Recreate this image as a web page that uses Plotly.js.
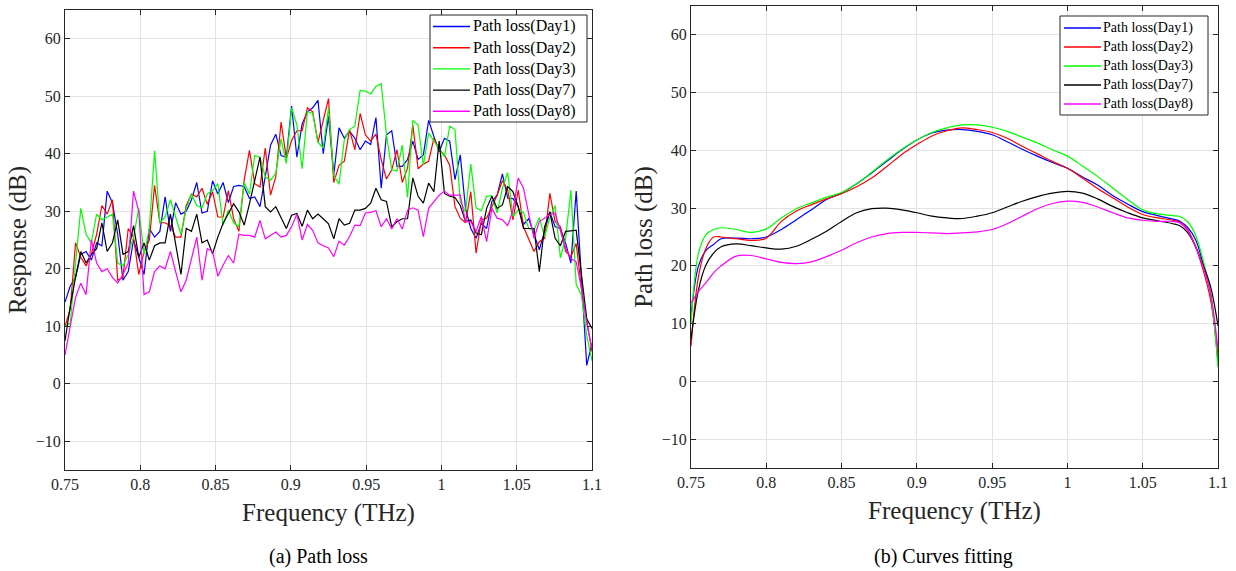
<!DOCTYPE html>
<html>
<head>
<meta charset="utf-8">
<script src="https://cdn.plot.ly/plotly-3.0.1.min.js"></script>
<style>html,body{margin:0;padding:0;background:#fff;}#chart{width:1236px;height:571px;}</style>
</head>
<body>
<div id="chart"></div>
<script>
// ---------- (a) measured path loss ----------
const freq = [0.75,0.7535,0.757,0.7605,0.764,0.7675,0.771,0.7745,0.778,0.7815,0.785,0.7885,0.792,0.7955,0.799,0.8025,0.806,0.8095,0.813,0.8165,0.82,0.8235,0.827,0.8305,0.834,0.8375,0.841,0.8445,0.848,0.8515,0.855,0.8585,0.862,0.8655,0.869,0.8725,0.876,0.8795,0.883,0.8865,0.89,0.8935,0.897,0.9005,0.904,0.9075,0.911,0.9145,0.918,0.9215,0.925,0.9285,0.932,0.9355,0.939,0.9425,0.946,0.9495,0.953,0.9565,0.96,0.9635,0.967,0.9705,0.974,0.9775,0.981,0.9845,0.988,0.9915,0.995,0.9985,1.002,1.0055,1.009,1.0125,1.016,1.0195,1.023,1.0265,1.03,1.0335,1.037,1.0405,1.044,1.0475,1.051,1.0545,1.058,1.0615,1.065,1.0685,1.072,1.0755,1.079,1.0825,1.086,1.0895,1.093,1.0965,1.1];

const day1 = [14.2,17,18.5,22.5,23,21.5,24.5,24,33.5,31.5,26,18,19.5,25,22,19,27,25.5,26.5,32.5,26.5,31.5,29.5,30,32,35,
29.7,30,35.3,33,35,31.5,34.3,34.5,34.3,32.2,32.5,30.8,36,41.5,43.4,39.7,39.4,48.3,39.4,45.2,47.3,48,49.3,40,46.5,
36.3,44.5,42.7,43.9,42.7,40.7,42.2,41.6,46.3,34,43.3,44,37.8,37.8,39,42.2,39,39.8,45.8,43,40.4,42.7,42.2,35.5,39.8,
30.5,27,25.3,27.9,27,31.7,32.8,36.5,32.3,32.2,30.8,27.7,28.7,25.9,23.3,26.5,29.9,27.3,27,24.4,21,33.5,19,3.2,7];

const day2 = [10,13,24.5,22,20.5,22.5,26,31,29.5,32,18,18.5,27,25.5,19,23,25,34.5,28,28,27.5,25.5,25.5,31,33,32.5,
34,31.2,33.4,29,29,33.6,28.7,26.5,35.4,40.6,34.8,34.2,41,32.8,36,45.5,39.2,42.3,44,44,48,47.3,42,45.8,49.6,
35,38,38.7,44.2,40.7,47,43.3,42.2,43.4,39,35.6,37.2,40.7,35,37.5,45,37.4,38.2,38.7,42.7,40.7,39.8,38,30.8,28.8,
28,33.4,22.7,28.5,28.8,30.8,32.8,35.3,33.7,28.5,33.7,27.3,25.3,23,24.7,25.3,33.1,28.2,27.3,23,22.1,24.4,16.6,10.8,5.6];

const day3 = [10,10.5,21,30.5,26,24.5,29.5,28.5,29,29.5,21,20.5,22.5,25.5,30.5,22.5,27,40.5,28,29,32,29,26,30.5,33,31,
30.6,33,33.6,34.8,27.6,30.2,28,27.3,35,33,39.7,39.4,36,35.4,36.6,42.6,38.3,48,45,37.4,47.3,47,42,41,48,
36.3,34.7,42.4,44.2,44.8,51,50.9,50.4,51.7,52.2,43.3,37.2,37,41.5,32.4,45.8,45,38,43.6,42.2,40.7,39.5,44.8,44.2,31.7,
29.9,38.2,30.6,30.1,32.6,32.7,29.7,34,36.7,29.1,30.2,29.8,27,26.7,28.9,25.6,28.8,31,21.9,25.3,33.7,17.3,15.4,8.4,4];

const day7 = [7.5,13.5,18.5,23,21,22.5,23.5,28,23,24.5,28.5,22.5,23,27.5,22,24.5,21.5,24,24.5,24.5,29.5,24.5,19,27,26.5,29.5,
24.5,25,22.6,25.5,27.9,29.6,31.3,29.9,27.6,31.3,35.4,39.4,30.8,29.9,30.8,29,27,29.3,29.6,27.4,30.2,28.7,29.5,28.7,27.8,
25.2,28.7,27.6,27.9,30.2,30.2,30.5,31.4,34,32,31.7,27.3,28.2,28.7,28.7,35.8,32.6,31.4,34.9,33.4,42.2,33.1,32.6,32.4,31,
28.2,28.5,26.2,25.9,30.5,32.6,30.5,31.1,34.3,33.4,30.8,27,27,27,19.5,27.3,29.9,25.3,24,26.5,26.6,26.7,19,11.3,9.6];

const day8 = [5,10,15,17.5,15.5,25,21,19.5,20,18.5,17.5,19,21,33.5,30,15.5,16,19.5,20.5,20,23,19.5,16,18,22,25.5,
18,23.5,23,18.7,20.6,22.3,21,26,25.8,25.8,25.5,28.4,25.2,25.8,26.4,25.5,25.8,27.3,29.5,25,27.7,26.7,24.5,24,23.6,
22.1,24.8,24.1,25.6,27.6,27.5,29.7,29.8,30.1,27.3,28.7,26.9,28.7,26.9,30.2,30.6,30.2,25.6,30.5,31.7,32.8,33.5,32.8,32.8,32.8,
28.2,28.2,26.5,29.1,24.7,30.5,28.8,28.5,27.5,30.1,35.8,34,29.5,25.3,28.2,28.8,29.4,29.7,26.5,23.5,21.8,21.2,16.6,10.5,6.1];

// ---------- (b) fitted curves ----------
const fitFreq = [0.75,0.755,0.76,0.765,0.77,0.78,0.79,0.8,0.81,0.82,0.83,0.84,0.85,0.86,0.87,0.88,0.89,0.9,0.91,0.92,0.93,0.94,0.95,0.96,0.97,0.98,0.99,1.0,1.01,1.02,1.03,1.04,1.05,1.06,1.07,1.075,1.08,1.085,1.09,1.095,1.1];

const fit1 = [11.3,20,22.7,23.7,24.7,24.8,24.7,25,26.3,28,29.7,31.5,32.6,34.2,36.1,38.1,40.1,41.8,43,43.5,43.6,43.3,42.7,41.5,40.2,39,37.9,36.9,35.4,34,32.2,30.7,29.4,28.7,28.1,27.7,26.6,24.6,20.5,15.3,3.2];
const fit2 = [6.1,18.2,23.1,25,25,24.7,24.4,24.8,27.7,29.5,30.6,31.6,32.5,33.7,35.2,37.2,39.3,41,42.5,43.4,43.9,43.6,43.1,42.1,40.7,39.4,38.1,36.9,35.2,33.4,31.8,30.2,28.9,28.3,27.9,27.5,26.2,23.4,19.4,14.2,4.4];
const fit3 = [9.9,22.2,25.4,26.3,26.6,26.3,25.8,26.4,28.3,29.9,30.9,31.9,32.7,34.2,36.2,38.3,40.2,41.8,43.1,43.9,44.4,44.4,44,43.3,42.3,41.3,40.1,39,37.3,35.5,33.5,31.5,29.7,29,28.7,28.5,27.6,25.4,21.1,15.3,2.4];
const fit7 = [7.3,15.9,20.2,22.2,23.3,23.8,23.5,23.1,22.9,23.4,24.6,26,27.7,29.2,29.9,30,29.7,29.2,28.6,28.3,28.2,28.6,29.2,30.2,31.2,32,32.6,32.9,32.6,31.6,30.3,29.2,28.3,27.8,27.3,26.9,25.7,23.4,20.2,16.5,9.6];
const fit8 = [13.6,15.6,17.1,18.8,20,21.7,21.8,21.2,20.6,20.4,20.7,21.6,22.7,24,25,25.6,25.8,25.8,25.7,25.6,25.7,25.9,26.3,27.3,28.6,29.9,30.8,31.2,31,30.2,29.2,28.3,27.9,27.7,27.7,27.4,26,23.4,19.9,15.3,5.5];

const seriesNames = ['Path loss(Day1)','Path loss(Day2)','Path loss(Day3)','Path loss(Day7)','Path loss(Day8)'];
const colors = ['#0000ff','#ff0000','#00ff00','#000000','#ff00ff'];
const xTickVals = [0.75,0.8,0.85,0.9,0.95,1,1.05,1.1];
const xTickText = ['0.75','0.8','0.85','0.9','0.95','1','1.05','1.1'];
const yTickVals = [-10,0,10,20,30,40,50,60];

const measured = [day1, day2, day3, day7, day8];
const fitted = [fit1, fit2, fit3, fit7, fit8];

const traces = [];
measured.forEach((ys, k) => {
  traces.push({x: freq, y: ys, type: 'scatter', mode: 'lines', name: seriesNames[k],
    line: {color: colors[k], width: 1.2}, xaxis: 'x', yaxis: 'y', showlegend: false});
});
fitted.forEach((ys, k) => {
  traces.push({x: fitFreq, y: ys, type: 'scatter', mode: 'lines', name: seriesNames[k],
    line: {color: colors[k], width: 1.2, shape: 'spline', smoothing: 1}, xaxis: 'x2', yaxis: 'y2', showlegend: false});
});

const font = 'Liberation Serif, Times New Roman, serif';
const axisCommon = {
  showline: true, mirror: 'ticks', linecolor: '#262626', linewidth: 1,
  ticks: 'inside', ticklen: 5, tickcolor: '#262626', tickwidth: 1,
  showgrid: true, gridcolor: '#e3e3e3', gridwidth: 1, zeroline: false,
  tickfont: {family: font, size: 16, color: '#262626'}
};
function xax(domain) {
  return Object.assign({}, axisCommon, {domain: domain, range: [0.75, 1.1], tickvals: xTickVals, ticktext: xTickText,
    title: {text: 'Frequency (THz)', font: {family: font, size: 25, color: '#262626'}, standoff: 11}});
}
function yax(domain, title, anchor) {
  return Object.assign({}, axisCommon, {domain: domain, range: [-15, 65], tickvals: yTickVals, anchor: anchor,
    title: {text: title, font: {family: font, size: 25, color: '#262626'}, standoff: 2}});
}

const W = 1236, H = 571;
const px = v => v / W, py = v => (H - v) / H;

// hand-drawn legend boxes (MATLAB style)
const shapes = [], annotations = [];
function addLegend(box, lineX0, lineX1, textX, y0, dy, fsize) {
  shapes.push({type: 'rect', xref: 'paper', yref: 'paper', x0: px(box[0]), x1: px(box[1]), y0: py(box[2]), y1: py(box[3]),
    fillcolor: '#ffffff', line: {color: '#262626', width: 1}, layer: 'above'});
  seriesNames.forEach((nm, k) => {
    const yy = y0 + dy * k;
    shapes.push({type: 'line', xref: 'paper', yref: 'paper', x0: px(lineX0), x1: px(lineX1), y0: py(yy), y1: py(yy),
      line: {color: colors[k], width: 1.4}, layer: 'above'});
    annotations.push({text: nm, xref: 'paper', yref: 'paper', x: px(textX), y: py(yy), xanchor: 'left', yanchor: 'middle',
      showarrow: false, borderpad: 0, font: {family: font, size: fsize, color: '#000'}});
  });
}
addLegend([430, 587, 15, 122], 433, 470, 472, 26.5, 21.2, 16);
addLegend([1060, 1208, 16, 115], 1064, 1101, 1102, 28, 19, 14);

annotations.push(
  {text: '(a) Path loss', xref: 'paper', yref: 'paper', x: px(318), y: py(556), xanchor: 'center', yanchor: 'middle',
    showarrow: false, font: {family: font, size: 20, color: '#000'}},
  {text: '(b) Curves fitting', xref: 'paper', yref: 'paper', x: px(943), y: py(556), xanchor: 'center', yanchor: 'middle',
    showarrow: false, font: {family: font, size: 20, color: '#000'}}
);

const layout = {
  width: W, height: H, margin: {l: 0, r: 0, t: 0, b: 0},
  paper_bgcolor: '#ffffff', plot_bgcolor: '#ffffff',
  showlegend: false,
  xaxis: Object.assign(xax([px(65), px(592)]), {anchor: 'y'}),
  yaxis: yax([py(470), py(10)], 'Response (dB)', 'x'),
  xaxis2: Object.assign(xax([px(691), px(1218)]), {anchor: 'y2'}),
  yaxis2: yax([py(468), py(6)], 'Path loss (dB)', 'x2'),
  shapes: shapes,
  annotations: annotations
};

Plotly.newPlot('chart', traces, layout, {displayModeBar: false, staticPlot: true});
</script>
</body>
</html>
